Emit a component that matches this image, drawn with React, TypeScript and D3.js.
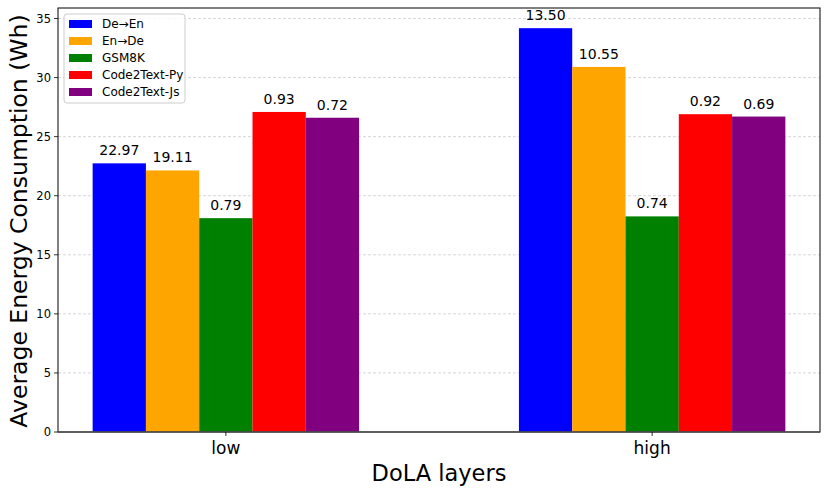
import React from "react";
import * as d3 from "d3";

const categories = ["low", "high"];
const seriesNames = ["De→En", "En→De", "GSM8K", "Code2Text-Py", "Code2Text-Js"];
const seriesColors = ["#0000ff", "#ffa500", "#008000", "#ff0000", "#800080"];
// bar heights (Wh) per series: [low, high]
const deEn = [22.74, 34.18];
const enDe = [22.14, 30.9];
const gsm8k = [18.1, 18.25];
const code2TextPy = [27.09, 26.9];
const code2TextJs = [26.6, 26.7];
// annotated labels above bars per series: [low, high]
const deEnLabels = ["22.97", "13.50"];
const enDeLabels = ["19.11", "10.55"];
const gsm8kLabels = ["0.79", "0.74"];
const pyLabels = ["0.93", "0.92"];
const jsLabels = ["0.72", "0.69"];
const yTicks = [0, 5, 10, 15, 20, 25, 30, 35];

const values = [deEn, enDe, gsm8k, code2TextPy, code2TextJs];
const labels = [deEnLabels, enDeLabels, gsm8kLabels, pyLabels, jsLabels];

const W = 830;
const H = 494;
const left = 58;
const right = 820;
const top = 8;
const bottom = 432;
const barW = 0.125;
const font = "DejaVu Sans, sans-serif";

export default function App() {
  const n = seriesNames.length;
  const xmin = -n * barW / 2 - 0.08125;
  const xmax = 1 + n * barW / 2 + 0.08125;
  const x = d3.scaleLinear().domain([xmin, xmax]).range([left, right]);
  const maxV = d3.max(values.flat()) as number;
  const y = d3.scaleLinear().domain([0, maxV * 1.05]).range([bottom, top]);

  return (
    <svg width={W} height={H} style={{ position: "absolute", left: 0, top: 0, fontFamily: font }}>
      <rect x={0} y={0} width={W} height={H} fill="#fff" />
      {yTicks.map((t) => (
        <g key={t}>
          <line x1={left} x2={right} y1={y(t)} y2={y(t)} stroke="#cccccc" strokeWidth={0.8} strokeDasharray="3,2" />
          <line x1={left - 4} x2={left} y1={y(t)} y2={y(t)} stroke="#000" strokeWidth={0.8} />
          <text x={left - 7} y={y(t)} dy="0.36em" textAnchor="end" fontSize={11.5}>{t}</text>
        </g>
      ))}
      {values.map((vals, si) =>
        vals.map((v, ci) => {
          const x0 = ci + (si - n / 2) * barW;
          const cx = x(x0 + barW / 2);
          return (
            <g key={`${si}-${ci}`}>
              <rect x={x(x0)} y={y(v)} width={x(x0 + barW) - x(x0)} height={bottom - y(v)} fill={seriesColors[si]} />
              <text x={cx} y={y(v) - 8} textAnchor="middle" fontSize={14}>{labels[si][ci]}</text>
            </g>
          );
        })
      )}
      <rect x={left} y={top} width={right - left} height={bottom - top} fill="none" stroke="#000" strokeWidth={1} />
      <line x1={left} x2={right} y1={bottom} y2={bottom} stroke="#555" strokeWidth={1.5} />
      {categories.map((c, i) => (
        <g key={c}>
          <line x1={x(i)} x2={x(i)} y1={bottom} y2={bottom + 4} stroke="#000" strokeWidth={0.8} />
          <text x={x(i)} y={454} textAnchor="middle" fontSize={17}>{c}</text>
        </g>
      ))}
      <text x={(left + right) / 2} y={481} textAnchor="middle" fontSize={22.5}>DoLA layers</text>
      <text transform={`translate(27,${(top + bottom) / 2 + 1}) rotate(-90)`} textAnchor="middle" fontSize={23.5}>Average Energy Consumption (Wh)</text>
      <g>
        <rect x={64} y={14} width={121} height={89} rx={3} fill="#fff" fillOpacity={0.8} stroke="#ccc" strokeWidth={1} />
        {seriesNames.map((s, i) => (
          <g key={s}>
            <rect x={69} y={24 + i * 17 - 4} width={23} height={8} fill={seriesColors[i]} />
            <text x={102} y={24 + i * 17} dy="0.36em" fontSize={12}>{s}</text>
          </g>
        ))}
      </g>
    </svg>
  );
}
